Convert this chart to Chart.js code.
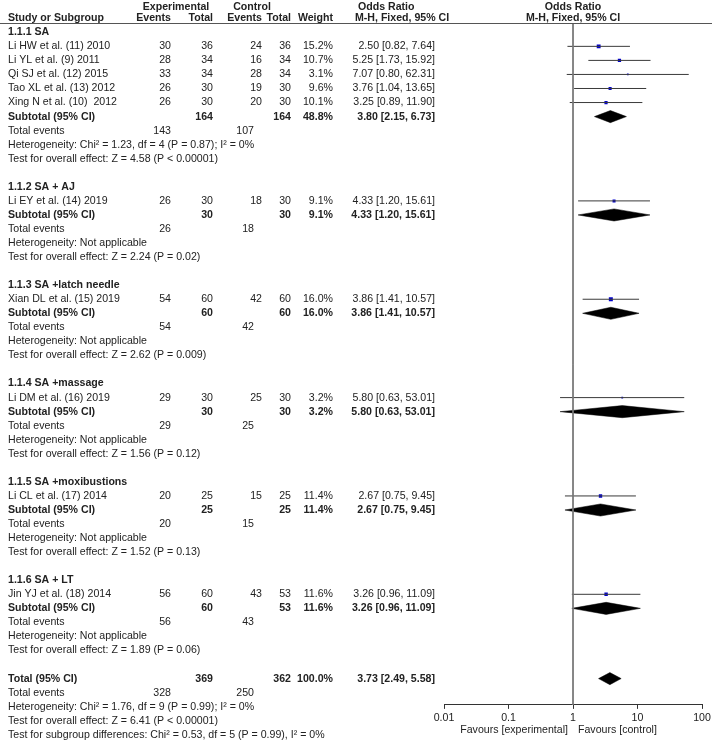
<!DOCTYPE html>
<html>
<head>
<meta charset="utf-8">
<title>Forest plot</title>
<script src="https://cdn.jsdelivr.net/npm/chart.js@4.4.0/dist/chart.umd.min.js"></script>
<style>
  html, body { margin: 0; padding: 0; background: #fff; }
  #wrap { width: 712px; height: 742px; }
</style>
</head>
<body>
<div id="wrap"><canvas id="forest" width="712" height="742"></canvas></div>
<script>
"use strict";
// STUDY DATA
const groupNames = ["1.1.1 SA", "1.1.2 SA + AJ", "1.1.3 SA +latch needle", "1.1.4 SA +massage", "1.1.5 SA +moxibustions", "1.1.6 SA + LT"];
const studyNames = [
  "Li HW et al. (11) 2010",
  "Li YL et al. (9) 2011",
  "Qi SJ et al. (12) 2015",
  "Tao XL et al. (13) 2012",
  "Xing N et al. (10)  2012",
  "Li EY et al. (14) 2019",
  "Xian DL et al. (15) 2019",
  "Li DM et al. (16) 2019",
  "Li CL et al. (17) 2014",
  "Jin YJ et al. (18) 2014",
];
const studyGroup = [0, 0, 0, 0, 0, 1, 2, 3, 4, 5];
const expEvents = [30, 28, 33, 26, 26, 26, 54, 29, 20, 56];
const expTotal = [36, 34, 34, 30, 30, 30, 60, 30, 25, 60];
const ctrlEvents = [24, 16, 28, 19, 20, 18, 42, 25, 15, 43];
const ctrlTotal = [36, 34, 34, 30, 30, 30, 60, 30, 25, 53];
const weights = [15.2, 10.7, 3.1, 9.6, 10.1, 9.1, 16.0, 3.2, 11.4, 11.6];
const orEst = [2.5, 5.25, 7.07, 3.76, 3.25, 4.33, 3.86, 5.8, 2.67, 3.26];
const orLow = [0.82, 1.73, 0.8, 1.04, 0.89, 1.2, 1.41, 0.63, 0.75, 0.96];
const orHigh = [7.64, 15.92, 62.31, 13.65, 11.9, 15.61, 10.57, 53.01, 9.45, 11.09];

// SUBGROUP DATA
const subExpTotal = [164, 30, 60, 30, 25, 60];
const subCtrlTotal = [164, 30, 60, 30, 25, 53];
const subWeight = [48.8, 9.1, 16.0, 3.2, 11.4, 11.6];
const subEst = [3.8, 4.33, 3.86, 5.8, 2.67, 3.26];
const subLow = [2.15, 1.2, 1.41, 0.63, 0.75, 0.96];
const subHigh = [6.73, 15.61, 10.57, 53.01, 9.45, 11.09];
const subExpEvents = [143, 26, 54, 29, 20, 56];
const subCtrlEvents = [107, 18, 42, 25, 15, 43];
const subHet = [
  "Heterogeneity: Chi² = 1.23, df = 4 (P = 0.87); I² = 0%",
  "Heterogeneity: Not applicable",
  "Heterogeneity: Not applicable",
  "Heterogeneity: Not applicable",
  "Heterogeneity: Not applicable",
  "Heterogeneity: Not applicable",
];
const subTest = [
  "Test for overall effect: Z = 4.58 (P < 0.00001)",
  "Test for overall effect: Z = 2.24 (P = 0.02)",
  "Test for overall effect: Z = 2.62 (P = 0.009)",
  "Test for overall effect: Z = 1.56 (P = 0.12)",
  "Test for overall effect: Z = 1.52 (P = 0.13)",
  "Test for overall effect: Z = 1.89 (P = 0.06)",
];

// OVERALL DATA
const totalCounts = [369, 362];
const totalEvents = [328, 250];
const totalWeight = 100.0;
const totalOr = [3.73, 2.49, 5.58];
const totalNotes = [
  "Heterogeneity: Chi² = 1.76, df = 9 (P = 0.99); I² = 0%",
  "Test for overall effect: Z = 6.41 (P < 0.00001)",
  "Test for subgroup differences: Chi² = 0.53, df = 5 (P = 0.99), I² = 0%",
];
const xTicks = [0.01, 0.1, 1, 10, 100];
const favourLabels = ["Favours [experimental]", "Favours [control]"];

// LAYOUT
const FONT = '"Liberation Sans", Arial, Helvetica, sans-serif';
const FS = 10.6;
const TXT = "#222";
const COL = { study: 8, expEv: 171, expTot: 213, ctrlEv: 262, ctrlEvSum: 254, ctrlTot: 291, weight: 333, orText: 435 };
const Y_MIN = -0.626; // row units at header line
const Y_MAX = 47.87; // row units at the axis
const HALF_D = 0.43; // diamond half height in rows

// build the row index of every line of the table
const studyRow = [];
const subRow = [];
const lines = [];
let r = 0;
groupNames.forEach((g, gi) => {
  lines.push({ r: r++, kind: "group", gi });
  studyGroup.forEach((sg, si) => {
    if (sg === gi) {
      studyRow[si] = r;
      lines.push({ r: r++, kind: "study", si });
    }
  });
  subRow[gi] = r;
  lines.push({ r: r++, kind: "subtotal", gi });
  lines.push({ r: r++, kind: "events", gi });
  lines.push({ r: r++, kind: "het", gi });
  lines.push({ r: r++, kind: "test", gi });
  r++; // blank line
});
const totalRow = r;

// HELPER FUNCTIONS
const fmt = (v) => v.toFixed(2);
const ciText = (e, l, h) => `${fmt(e)} [${fmt(l)}, ${fmt(h)}]`;
const diamond = (e, l, h, row) => [
  { x: l, y: row },
  { x: e, y: row - HALF_D },
  { x: h, y: row },
  { x: e, y: row + HALF_D },
  { x: l, y: row },
];

// DATASETS
const datasets = [];
datasets.push({
  type: "line",
  data: [{ x: 1, y: Y_MIN }, { x: 1, y: Y_MAX }],
  borderColor: "#777",
  borderWidth: 1,
  pointRadius: 0,
});
studyNames.forEach((name, i) => {
  datasets.push({
    type: "line",
    data: [{ x: orLow[i], y: studyRow[i] }, { x: orHigh[i], y: studyRow[i] }],
    borderColor: "#3a3a3a",
    borderWidth: 1,
    pointRadius: 0,
  });
});
datasets.push({
  type: "scatter",
  data: studyNames.map((n, i) => ({ x: orEst[i], y: studyRow[i] })),
  pointStyle: "rect",
  pointRadius: weights.map((w) => Math.sqrt(w) / Math.SQRT2),
  backgroundColor: "#0000cc",
  borderWidth: 0,
});
groupNames.forEach((g, gi) => {
  datasets.push({
    type: "line",
    data: diamond(subEst[gi], subLow[gi], subHigh[gi], subRow[gi]),
    borderColor: "#000",
    backgroundColor: "#000",
    borderWidth: 0.5,
    pointRadius: 0,
    fill: "shape",
    tension: 0,
  });
});
datasets.push({
  type: "line",
  data: diamond(totalOr[0], totalOr[1], totalOr[2], totalRow),
  borderColor: "#000",
  backgroundColor: "#000",
  borderWidth: 0.5,
  pointRadius: 0,
  fill: "shape",
  tension: 0,
});

// TABLE TEXT PLUGIN
const tableText = {
  id: "tableText",
  afterDraw(chart) {
    const { ctx, scales } = chart;
    const yPix = (row) => scales.y.getPixelForValue(row);
    const x1 = scales.x.getPixelForValue(1);
    const put = (text, x, y, align, bold) => {
      ctx.font = `${bold ? "bold " : ""}${FS}px ${FONT}`;
      ctx.textAlign = align;
      ctx.fillText(String(text), x, y);
    };
    ctx.save();
    ctx.fillStyle = TXT;
    ctx.textBaseline = "middle";

    // header
    const h1 = 7, h2 = 18.5;
    put("Experimental", 176, h1, "center", true);
    put("Control", 252, h1, "center", true);
    put("Odds Ratio", 358, h1, "left", true);
    put("Odds Ratio", x1, h1, "center", true);
    put("Study or Subgroup", COL.study, h2, "left", true);
    put("Events", COL.expEv, h2, "right", true);
    put("Total", COL.expTot, h2, "right", true);
    put("Events", COL.ctrlEv, h2, "right", true);
    put("Total", COL.ctrlTot, h2, "right", true);
    put("Weight", COL.weight, h2, "right", true);
    put("M-H, Fixed, 95% CI", 355, h2, "left", true);
    put("M-H, Fixed, 95% CI", x1, h2, "center", true);

    ctx.strokeStyle = "#555";
    ctx.lineWidth = 1;
    ctx.beginPath();
    ctx.moveTo(0, 23.5);
    ctx.lineTo(712, 23.5);
    ctx.stroke();

    lines.forEach((ln) => {
      const y = yPix(ln.r);
      if (ln.kind === "group") {
        put(groupNames[ln.gi], COL.study, y, "left", true);
      } else if (ln.kind === "study") {
        const i = ln.si;
        put(studyNames[i], COL.study, y, "left", false);
        put(expEvents[i], COL.expEv, y, "right", false);
        put(expTotal[i], COL.expTot, y, "right", false);
        put(ctrlEvents[i], COL.ctrlEv, y, "right", false);
        put(ctrlTotal[i], COL.ctrlTot, y, "right", false);
        put(weights[i].toFixed(1) + "%", COL.weight, y, "right", false);
        put(ciText(orEst[i], orLow[i], orHigh[i]), COL.orText, y, "right", false);
      } else if (ln.kind === "subtotal") {
        const g = ln.gi;
        put("Subtotal (95% CI)", COL.study, y, "left", true);
        put(subExpTotal[g], COL.expTot, y, "right", true);
        put(subCtrlTotal[g], COL.ctrlTot, y, "right", true);
        put(subWeight[g].toFixed(1) + "%", COL.weight, y, "right", true);
        put(ciText(subEst[g], subLow[g], subHigh[g]), COL.orText, y, "right", true);
      } else if (ln.kind === "events") {
        put("Total events", COL.study, y, "left", false);
        put(subExpEvents[ln.gi], COL.expEv, y, "right", false);
        put(subCtrlEvents[ln.gi], COL.ctrlEvSum, y, "right", false);
      } else if (ln.kind === "het") {
        put(subHet[ln.gi], COL.study, y, "left", false);
      } else if (ln.kind === "test") {
        put(subTest[ln.gi], COL.study, y, "left", false);
      }
    });

    // overall rows
    let y = yPix(totalRow);
    put("Total (95% CI)", COL.study, y, "left", true);
    put(totalCounts[0], COL.expTot, y, "right", true);
    put(totalCounts[1], COL.ctrlTot, y, "right", true);
    put(totalWeight.toFixed(1) + "%", COL.weight, y, "right", true);
    put(ciText(totalOr[0], totalOr[1], totalOr[2]), COL.orText, y, "right", true);
    y = yPix(totalRow + 1);
    put("Total events", COL.study, y, "left", false);
    put(totalEvents[0], COL.expEv, y, "right", false);
    put(totalEvents[1], COL.ctrlEvSum, y, "right", false);
    totalNotes.forEach((t, k) => put(t, COL.study, yPix(totalRow + 2 + k), "left", false));

    // favours labels under the axis
    put(favourLabels[0], x1 - 5, 730, "right", false);
    put(favourLabels[1], x1 + 5, 730, "left", false);
    ctx.restore();
  },
};

// CHART
const forestChart = new Chart(document.getElementById("forest"), {
  type: "scatter",
  data: { datasets: datasets },
  options: {
    responsive: false,
    animation: false,
    devicePixelRatio: 1,
    events: [],
    layout: { padding: { left: 444, right: 10, top: 23.5, bottom: 14.4 } },
    plugins: { legend: { display: false }, tooltip: { enabled: false } },
    scales: {
      x: {
        type: "logarithmic",
        position: "bottom",
        min: 0.01,
        max: 100,
        afterBuildTicks: (scale) => {
          scale.ticks = xTicks.map((v) => ({ value: v }));
        },
        afterFit: (scale) => {
          // the layout padding already leaves room for the end labels
          scale.paddingLeft = 0;
          scale.paddingRight = 0;
        },
        ticks: {
          callback: (v) => String(v),
          autoSkip: false,
          maxRotation: 0,
          padding: 3,
          color: TXT,
          font: { family: FONT, size: FS },
        },
        grid: { drawOnChartArea: false, drawTicks: true, tickLength: 4, color: "#333" },
        border: { display: true, color: "#333", width: 1 },
      },
      y: {
        type: "linear",
        reverse: true,
        min: Y_MIN,
        max: Y_MAX,
        display: false,
      },
    },
  },
  plugins: [tableText],
});
</script>
</body>
</html>
